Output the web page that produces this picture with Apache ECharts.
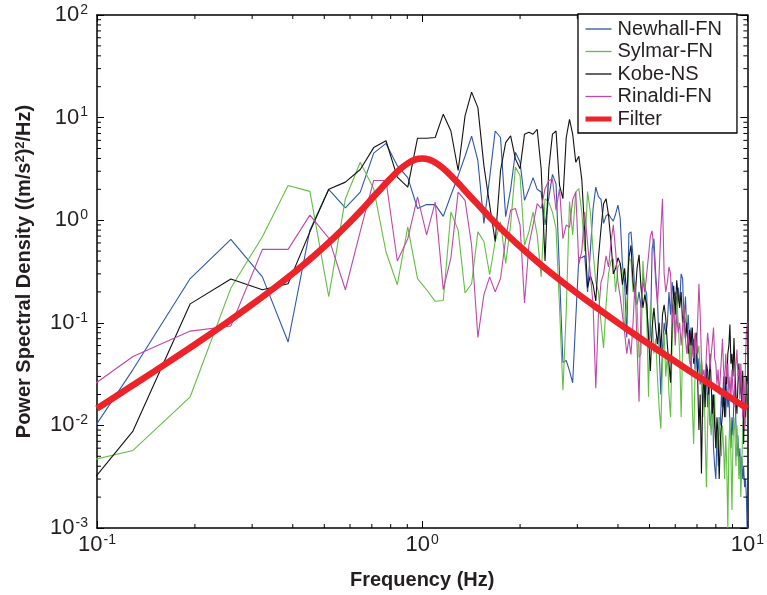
<!DOCTYPE html>
<html>
<head>
<meta charset="utf-8">
<script src="https://cdn.jsdelivr.net/npm/echarts@6/dist/echarts.min.js"></script>
<style>
html,body{margin:0;padding:0;background:#fff;}
#chart{width:767px;height:595px;}
</style>
</head>
<body>
<div id="chart"></div>
<script>
// Frequency grid (Hz)
const freq = [0.0645,0.129,0.1935,0.258,0.3225,0.387,0.4515,0.516,0.5805,0.645,
0.7095,0.774,0.8385,0.903,0.9675,1.032,1.0965,1.161,1.2255,1.29,
1.3545,1.419,1.4835,1.548,1.6125,1.677,1.7415,1.806,1.8705,1.935,
1.9995,2.064,2.1285,2.193,2.2575,2.322,2.3865,2.451,2.5155,2.58,
2.6445,2.709,2.7735,2.838,2.9025,2.967,3.0315,3.096,3.1605,3.225,
3.2895,3.354,3.4185,3.483,3.5475,3.612,3.6765,3.741,3.8055,3.87,
3.9345,3.999,4.0635,4.128,4.1925,4.257,4.3215,4.386,4.4505,4.515,
4.5795,4.644,4.7085,4.773,4.8375,4.902,4.9665,5.031,5.0955,5.16,
5.2245,5.289,5.3535,5.418,5.4825,5.547,5.6115,5.676,5.7405,5.805,
5.8695,5.934,5.9985,6.063,6.1275,6.192,6.2565,6.321,6.3855,6.45,
6.5145,6.579,6.6435,6.708,6.7725,6.837,6.9015,6.966,7.0305,7.095,
7.1595,7.224,7.2885,7.353,7.4175,7.482,7.5465,7.611,7.6755,7.74,
7.8045,7.869,7.9335,7.998,8.0625,8.127,8.1915,8.256,8.3205,8.385,
8.4495,8.514,8.5785,8.643,8.7075,8.772,8.8365,8.901,8.9655,9.03,
9.0945,9.159,9.2235,9.288,9.3525,9.417,9.4815,9.546,9.6105,9.675,
9.7395,9.804,9.8685,9.933,9.9975];

const newhall = [0.0013,0.035,0.27,0.65,0.28,0.065,0.8,2.0,1.32,1.88,
4.5,5.6,3.4,2.6,1.3,1.42,1.42,1.09,1.75,2.7,
4.2,6.6,3.8,0.93,2.6,7.4,6.4,1.08,2.0,4.6,
3.7,1.56,2.0,2.6,2.0,1.88,0.9,1.65,2.8,2.26,
0.3,0.041,0.043,0.034,0.026,0.11,0.43,0.43,0.45,0.2,
0.5,1.3,2.1,1.7,1.6,0.93,1.1,1.15,1.05,0.98,
1.15,1.4,1.05,0.37,0.25,0.072,0.74,0.77,0.43,0.175,
0.15,0.2,0.14,0.3,0.22,0.19,0.057,0.077,0.53,0.66,
0.3,0.175,0.057,0.02,0.057,0.1,0.077,0.1,0.2,0.12,
0.25,0.18,0.2,0.12,0.22,0.15,0.3,0.27,0.1,0.18,
0.08,0.12,0.06,0.09,0.05,0.07,0.035,0.05,0.03,0.045,
0.025,0.04,0.012,0.03,0.02,0.035,0.015,0.025,0.01,0.012,
0.02,0.006,0.004,0.003,0.008,0.005,0.012,0.01,0.02,0.015,
0.03,0.02,0.012,0.025,0.015,0.02,0.01,0.006,0.012,0.008,
0.02,0.025,0.01,0.005,0.008,0.004,0.006,0.003,0.005,0.003,
0.004,0.0025,0.003,0.002,0.0008];

const sylmar = [0.0034,0.0057,0.019,0.218,0.69,2.18,1.91,0.18,1.62,3.67,
2.03,0.49,0.235,0.86,0.27,0.21,0.162,0.165,1.2,0.8,
0.195,0.24,0.77,0.62,0.294,0.62,0.96,0.38,0.9,3.29,
2.73,0.57,0.77,1.2,0.72,0.28,1.62,1.5,1.2,0.83,
0.14,0.022,0.13,1.52,0.72,1.88,2.03,1.2,0.5,1.9,
1.2,0.5,0.25,0.2,0.1,0.057,0.15,0.3,0.4,0.42,
0.2,0.35,0.38,0.3,0.08,0.15,0.43,0.4,0.2,0.25,
0.15,0.046,0.05,0.4,0.2,0.12,0.019,0.15,0.12,0.05,
0.07,0.03,0.015,0.0093,0.04,0.08,0.03,0.05,0.02,0.012,
0.06,0.15,0.08,0.18,0.1,0.05,0.012,0.06,0.14,0.1,
0.12,0.06,0.04,0.07,0.015,0.0066,0.03,0.08,0.05,0.06,
0.03,0.045,0.02,0.03,0.008,0.0025,0.01,0.02,0.012,0.008,
0.015,0.009,0.02,0.006,0.01,0.004,0.012,0.008,0.005,0.01,
0.006,0.003,0.008,0.004,0.001,0.006,0.012,0.005,0.0015,0.007,
0.012,0.008,0.004,0.01,0.006,0.003,0.005,0.002,0.004,0.009,
0.015,0.02,0.01,0.018,0.025];

const kobe = [0.0006,0.0088,0.153,0.267,0.21,0.24,0.77,2.0,2.35,3.12,
5.1,5.95,2.63,2.1,6.3,6.3,6.4,10.8,7.4,3.05,
10.4,17.7,12.5,3.4,1.4,0.62,3.05,5.7,6.65,3.96,
3.17,6.9,7.2,6.9,7.7,3.17,0.4,3.17,6.9,7.4,
2.18,1.62,6.4,9.6,6.9,3.67,4.2,2.5,0.78,0.22,
0.29,0.235,0.163,0.43,0.83,1.45,1.62,1.12,0.62,0.3,
0.34,0.43,0.38,0.235,0.34,0.188,0.43,0.57,0.25,0.175,
0.34,0.46,0.22,0.14,0.188,0.15,0.077,0.034,0.089,0.14,
0.089,0.062,0.1,0.053,0.12,0.15,0.11,0.06,0.04,0.026,
0.1,0.23,0.12,0.26,0.18,0.14,0.2,0.1,0.13,0.07,
0.1,0.05,0.085,0.06,0.09,0.04,0.07,0.08,0.03,0.009,
0.02,0.0034,0.019,0.03,0.015,0.04,0.034,0.02,0.05,0.025,
0.013,0.02,0.01,0.006,0.012,0.008,0.003,0.007,0.01,0.013,
0.02,0.012,0.03,0.025,0.05,0.06,0.096,0.04,0.05,0.03,
0.071,0.035,0.02,0.013,0.025,0.04,0.02,0.03,0.015,0.034,
0.0066,0.02,0.012,0.03,0.027];

const rinaldi = [0.0097,0.047,0.083,0.093,0.52,0.52,1.12,0.67,0.21,0.78,
2.44,2.44,0.4,0.66,1.69,0.72,1.5,0.21,0.43,1.88,
1.56,0.57,0.072,0.188,0.28,0.2,0.27,0.66,1.25,1.3,
0.9,0.156,0.57,0.9,1.45,1.3,2.03,2.44,2.5,1.25,
2.03,0.66,0.9,0.85,1.58,1.88,0.37,0.5,1.2,0.6,
0.3,0.15,0.023,0.12,0.25,0.3,0.45,0.35,0.6,0.9,
0.5,0.25,0.18,0.12,0.08,0.05,0.07,0.049,0.1,0.25,
0.06,0.017,0.15,0.25,0.2,0.3,0.45,0.7,0.79,0.5,
0.25,0.15,0.3,0.8,1.62,0.3,0.2,0.25,0.35,0.3,
0.1,0.15,0.06,0.12,0.08,0.1,0.06,0.09,0.15,0.07,
0.05,0.08,0.05,0.035,0.06,0.045,0.08,0.05,0.1,0.24,
0.12,0.045,0.03,0.035,0.025,0.05,0.08,0.06,0.035,0.05,
0.065,0.09,0.045,0.04,0.025,0.035,0.02,0.03,0.045,0.07,
0.035,0.025,0.05,0.03,0.04,0.02,0.03,0.018,0.035,0.022,
0.015,0.03,0.04,0.055,0.03,0.035,0.018,0.04,0.025,0.012,
0.03,0.009,0.045,0.08,0.1];

// Filter curve, read at selected frequencies
const filterFreq = [0.1,0.125,0.15,0.2,0.25,0.3,0.35,0.4,0.45,0.5,
0.55,0.6,0.65,0.7,0.75,0.8,0.85,0.9,0.95,1.0,
1.05,1.1,1.15,1.2,1.3,1.4,1.5,1.6,1.8,2.0,
2.25,2.5,3,3.5,4,5,6,7,8,9,10];
const filterVal = [0.0146,0.0231,0.0336,0.0615,0.0999,0.151,0.217,0.302,0.411,0.552,
0.732,0.961,1.25,1.62,2.06,2.56,3.09,3.56,3.89,4.0,
3.90,3.63,3.28,2.91,2.24,1.73,1.37,1.10,0.755,0.552,
0.398,0.302,0.193,0.135,0.0998,0.0615,0.0419,0.0304,0.0231,0.0181,0.0146];

const seriesNames = ['Newhall-FN','Sylmar-FN','Kobe-NS','Rinaldi-FN','Filter'];
const seriesColors = ['#2d55aa','#62be44','#111111','#bf47a6','#ec2329'];

const xMinor = [0.2,0.3,0.4,0.5,0.6,0.7,0.8,0.9,2,3,4,5,6,7,8,9];
const yMinorMult = [2,3,4,5,6,7,8,9];
const yDecades = [0.001,0.01,0.1,1,10];

const FONT = '"Liberation Sans", Arial, Helvetica, sans-serif';
const TXT = '#231f20';

function pairs(xs, ys){ return xs.map((x,i)=>[x, ys[i]]); }

const yMinor = [];
yDecades.forEach(d => yMinorMult.forEach(m => yMinor.push(+(d*m).toPrecision(3))));

function expLabel(v){
  const e = Math.round(Math.log10(v));
  return '{b|10}{s|' + e + '}';
}
const labelRich = {
  b: {fontSize: 22, lineHeight: 22, fontFamily: FONT, color: TXT},
  s: {fontSize: 14, lineHeight: 14, fontFamily: FONT, color: TXT, padding: [0,0,10,1]}
};

const axisLineStyle = {color: '#000', width: 1.5};

const chart = echarts.init(document.getElementById('chart'), null, {renderer: 'canvas'});

const lineSeries = [newhall, sylmar, kobe, rinaldi].map((vals, i) => ({
  name: seriesNames[i],
  type: 'line',
  data: pairs(freq, vals),
  symbol: 'none',
  clip: true,
  color: seriesColors[i],
  lineStyle: {color: seriesColors[i], width: 1.1},
  z: 2 + i,
  animation: false
}));

const legendData = seriesNames.map((n, i) => ({
  name: n,
  lineStyle: {width: i === 4 ? 5 : 1.3}
}));

const option = {
  animation: false,
  backgroundColor: '#fff',
  grid: {left: 97, right: 17, top: 15, bottom: 65, containLabel: false},
  legend: {
    data: legendData,
    orient: 'vertical',
    left: 578,
    top: 14,
    padding: [5, 15, 4, 5],
    itemGap: 2.5,
    itemWidth: 26,
    itemHeight: 14,
    backgroundColor: '#fff',
    borderColor: '#000',
    borderWidth: 1.3,
    borderRadius: 0,
    itemStyle: {color: 'rgba(0,0,0,0)', borderColor: 'rgba(0,0,0,0)', borderWidth: 0},
    textStyle: {fontFamily: FONT, fontSize: 20, lineHeight: 19.5, color: TXT, padding: [0,0,0,1]},
    z: 20
  },
  xAxis: [
    {
      type: 'log', logBase: 10, min: 0.1, max: 10, position: 'bottom',
      axisLine: {show: true, onZero: false, lineStyle: axisLineStyle},
      axisTick: {show: true, inside: true, length: 7, lineStyle: {color: '#000', width: 1}},
      axisLabel: {formatter: expLabel, rich: labelRich, margin: 6, showMinLabel: true, showMaxLabel: true},
      splitLine: {show: false},
      minorTick: {show: false},
      name: 'Frequency (Hz)', nameLocation: 'middle', nameGap: 42,
      nameTextStyle: {fontFamily: FONT, fontWeight: 'bold', fontSize: 20, color: TXT}
    },
    {
      type: 'log', logBase: 10, min: 0.1, max: 10, position: 'top',
      axisLine: {show: true, onZero: false, lineStyle: axisLineStyle},
      axisTick: {show: true, inside: true, length: 7, lineStyle: {color: '#000', width: 1}},
      axisLabel: {show: false}, splitLine: {show: false}
    }
  ],
  yAxis: [
    {
      type: 'log', logBase: 10, min: 0.001, max: 100, position: 'left', splitNumber: 5,
      axisLine: {show: true, onZero: false, lineStyle: axisLineStyle},
      axisTick: {show: true, inside: true, length: 7, lineStyle: {color: '#000', width: 1}},
      axisLabel: {formatter: expLabel, rich: labelRich, margin: 9, showMinLabel: true, showMaxLabel: true},
      splitLine: {show: false},
      name: '{a|Power Spectral Density ((m/s}{s|2}{a|)}{s|2}{a|/Hz)}',
      nameLocation: 'middle', nameGap: 63, nameRotate: 90,
      nameTextStyle: {
        fontFamily: FONT, fontWeight: 'bold', fontSize: 20, color: TXT,
        rich: {
          a: {fontFamily: FONT, fontWeight: 'bold', fontSize: 20, lineHeight: 20, color: TXT},
          s: {fontFamily: FONT, fontWeight: 'bold', fontSize: 13, lineHeight: 13, color: TXT, padding: [0,0,8,0]}
        }
      }
    },
    {
      type: 'log', logBase: 10, min: 0.001, max: 100, position: 'right', splitNumber: 5,
      axisLine: {show: true, onZero: false, lineStyle: axisLineStyle},
      axisTick: {show: true, inside: true, length: 7, lineStyle: {color: '#000', width: 1}},
      axisLabel: {show: false}, splitLine: {show: false}
    }
  ],
  series: lineSeries.concat([
    {
      name: 'Filter',
      type: 'line',
      data: pairs(filterFreq, filterVal),
      symbol: 'none',
      smooth: 0.3,
      clip: true,
      color: seriesColors[4],
      lineStyle: {color: seriesColors[4], width: 6.5},
      z: 10
    },
    {
      type: 'custom',
      silent: true,
      data: xMinor.map(v => [v, 1]),
      z: 15,
      renderItem: function (params, api) {
        const v = api.value(0);
        const b = api.coord([v, 0.001]);
        const t = api.coord([v, 100]);
        return {type: 'group', children: [
          {type: 'line', shape: {x1: b[0], y1: b[1], x2: b[0], y2: b[1] - 4}, style: {stroke: '#000', lineWidth: 1}},
          {type: 'line', shape: {x1: t[0], y1: t[1], x2: t[0], y2: t[1] + 4}, style: {stroke: '#000', lineWidth: 1}}
        ]};
      }
    },
    {
      type: 'custom',
      silent: true,
      data: yMinor.map(v => [1, v]),
      z: 15,
      renderItem: function (params, api) {
        const v = api.value(1);
        const l = api.coord([0.1, v]);
        const r = api.coord([10, v]);
        return {type: 'group', children: [
          {type: 'line', shape: {x1: l[0], y1: l[1], x2: l[0] + 4, y2: l[1]}, style: {stroke: '#000', lineWidth: 1}},
          {type: 'line', shape: {x1: r[0], y1: r[1], x2: r[0] - 4, y2: r[1]}, style: {stroke: '#000', lineWidth: 1}}
        ]};
      }
    }
  ])
};

chart.setOption(option);
</script>
</body>
</html>
